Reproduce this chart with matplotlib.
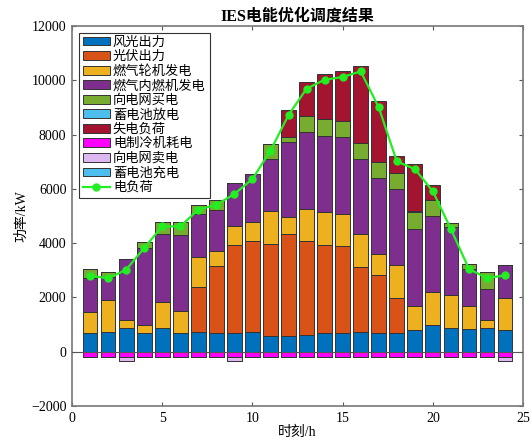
import numpy as np
import matplotlib
matplotlib.use("Agg")
import matplotlib.pyplot as plt

hours = np.arange(1, 25)
wind   = [688, 725, 884, 688, 884, 688, 725, 688, 688, 725, 589, 589, 626, 688, 688, 725, 688, 688, 810, 994, 871, 835, 871, 810]
pv     = [0, 0, 0, 0, 0, 0, 1644, 2479, 3253, 3352, 3389, 3757, 3451, 3253, 3216, 2381, 2123, 1289, 0, 0, 0, 0, 0, 0]
gt     = [760, 1165, 295, 294, 946, 797, 1118, 528, 699, 686, 1190, 601, 1178, 1216, 1167, 1228, 787, 1227, 884, 1204, 1204, 835, 308, 1167]
ice    = [1265, 847, 2246, 2836, 2504, 2800, 1584, 1535, 1572, 1781, 1929, 2776, 2823, 2787, 2824, 2775, 2799, 2800, 2824, 2787, 2517, 1375, 1141, 1227]
buy    = [344, 185, 0, 209, 454, 503, 319, 368, 0, 0, 564, 184, 589, 613, 602, 577, 589, 578, 614, 589, 159, 196, 602, 0]
bat_dis= [0]*18 + [50] + [0]*5
shed   = [0]*11 + [1006, 1253, 1671, 1828, 2848, 2234, 637, 1743, 553, 0, 0, 0, 0]
chiller= [-190]*24
sell   = [0, 0, -170, 0, 0, 0, 0, 0, -170, 0, 0, 0, 0, 0, 0, 0, 0, 0, 0, 0, 0, 0, 0, -170]
bat_ch = [0]*24
load   = [2800, 2700, 3020, 3820, 4616, 4616, 5230, 5414, 5807, 6360, 7403, 8720, 9687, 10018, 10117, 10325, 8999, 7010, 6728, 5906, 4518, 3045, 2713, 2811]

labels = ['风光出力', '光伏出力', '燃气轮机发电', '燃气内燃机发电', '向电网买电', '蓄电池放电',
          '失电负荷', '电制冷机耗电', '向电网卖电', '蓄电池充电']
colors = ['#0072BD', '#D95319', '#EDB120', '#7E2F8E', '#77AC30', '#4DBEEE',
          '#A2142F', '#FF00FF', '#DDB8F0', '#4DBEEE']

plt.rcParams['font.family'] = ['Liberation Serif', 'Noto Sans CJK SC']
fig = plt.figure(figsize=(5.32, 4.43), dpi=100)
ax = fig.add_axes([0.1353, 0.0835, 0.848, 0.858])

w = 0.82
ec = '#333333'
pos_series = [wind, pv, gt, ice, buy, bat_dis, shed]
bottom = np.zeros(24)
handles = []
for s, c, l in zip(pos_series, colors[:7], labels[:7]):
    s = np.array(s, dtype=float)
    b = ax.bar(hours, s, w, bottom=bottom, color=c, edgecolor=ec, linewidth=0.7, label=l)
    handles.append(b)
    bottom += s
nb = np.zeros(24)
for s, c, l in zip([chiller, sell, bat_ch], colors[7:], labels[7:]):
    s = np.array(s, dtype=float)
    b = ax.bar(hours, s, w, bottom=nb, color=c, edgecolor=ec, linewidth=0.7, label=l)
    handles.append(b)
    nb += s

ax.axhline(0, color='#555555', linewidth=0.8, zorder=3)
ln, = ax.plot(hours, load, '-o', color='#22EE22', linewidth=1.6, markersize=5,
              markerfacecolor='#22EE22', markeredgecolor='#22EE22', label='电负荷', zorder=5)
handles.append(ln)

ax.set_xlim(0, 25)
ax.set_ylim(-2000, 12000)
ax.set_xticks([0, 5, 10, 15, 20, 25])
ax.set_yticks(np.arange(-2000, 12001, 2000))
ax.tick_params(direction='in', top=True, right=True, labelsize=10, length=3,
               color='#555555', pad=4)
for sp in ax.spines.values():
    sp.set_color('#777777')
    sp.set_linewidth(1.2)

ax.set_title('IES电能优化调度结果', fontsize=11.5, fontweight='bold', pad=4)
ax.set_xlabel('时刻/h', fontsize=10, labelpad=1)
ax.set_ylabel('功率/kW', fontsize=10, labelpad=2)

leg = ax.legend(handles=handles, labels=labels + ['电负荷'], loc='upper left',
                fontsize=9.5, frameon=True, fancybox=False, edgecolor='#333333',
                framealpha=1, labelspacing=0.16, handlelength=2.1, handleheight=0.65,
                handletextpad=0.2, borderpad=0.3, borderaxespad=0.5)
leg.get_frame().set_linewidth(0.8)

fig.savefig('out.png', dpi=100)
